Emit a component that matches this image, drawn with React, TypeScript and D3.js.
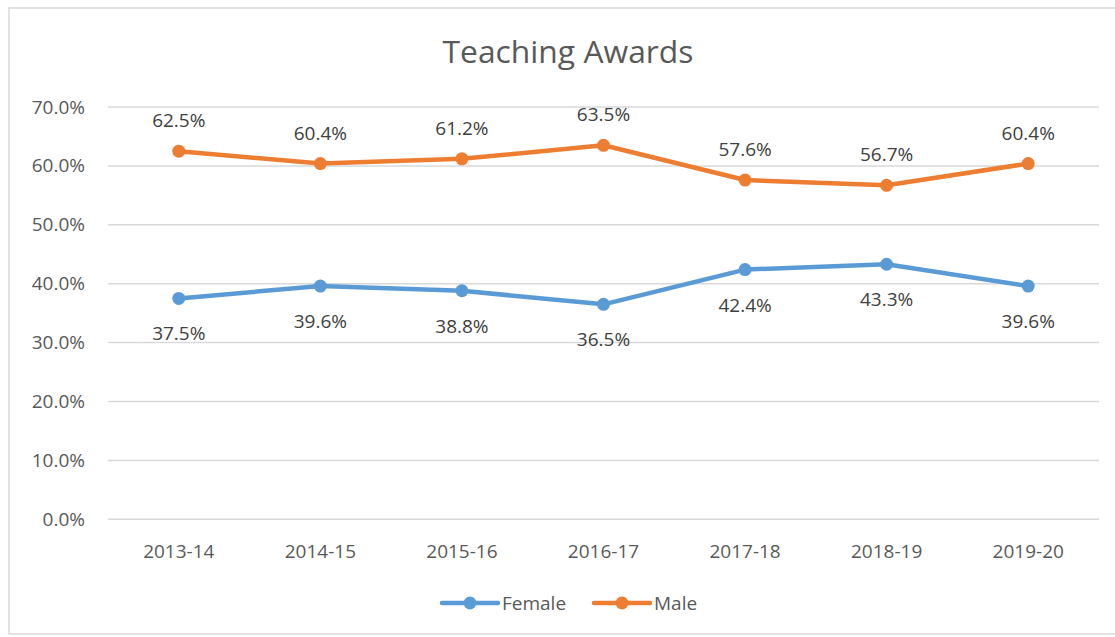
import React from "react";
import * as d3 from "d3";

const categories = ["2013-14", "2014-15", "2015-16", "2016-17", "2017-18", "2018-19", "2019-20"];
const female = [37.5, 39.6, 38.8, 36.5, 42.4, 43.3, 39.6];
const male = [62.5, 60.4, 61.2, 63.5, 57.6, 56.7, 60.4];
const yTicks = [0, 10, 20, 30, 40, 50, 60, 70];
const seriesNames = ["Female", "Male"];
const colors = ["#5B9BD5", "#ED7D31"];

const W = 1115, H = 637;
const FONT = "'Open Sans', sans-serif";

export default function App() {
  const x = d3.scaleBand<string>().domain(categories).range([108, 1099]);
  const y = d3.scaleLinear().domain([0, 70]).range([519.3, 107]);
  const cx = (c: string) => (x(c) as number) + x.bandwidth() / 2;
  const line = d3.line<[string, number]>().x(d => cx(d[0])).y(d => y(d[1]));
  const series = [female, male];
  const text = "#595959";
  const fs = 19;
  return (
    <svg width={W} height={H} style={{ position: "absolute", left: 0, top: 0, background: "#fff" }}>
      <rect x={9} y={8} width={1115} height={626} fill="#fff" stroke="#D9D9D9" strokeWidth={1.5} />
      <text x={568} y={63} textAnchor="middle" fontFamily={FONT} fontSize={31.5} fill={text} textLength={251} lengthAdjust="spacingAndGlyphs">Teaching Awards</text>
      {yTicks.map(t => (
        <g key={t}>
          <line x1={108} x2={1099} y1={y(t)} y2={y(t)} stroke="#D9D9D9" strokeWidth={1.5} />
          <text x={85} y={y(t) + 6.5} textAnchor="end" fontFamily={FONT} fontSize={fs} fill={text}>{t.toFixed(1)}%</text>
        </g>
      ))}
      {categories.map(c => (
        <text key={c} x={cx(c)} y={558} textAnchor="middle" fontFamily={FONT} fontSize={fs} fill={text}>{c}</text>
      ))}
      {series.map((s, i) => (
        <g key={i}>
          <path d={line(categories.map((c, j) => [c, s[j]]) as any) as string} fill="none" stroke={colors[i]} strokeWidth={4.5} strokeLinejoin="round" />
          {categories.map((c, j) => (
            <g key={c}>
              <circle cx={cx(c)} cy={y(s[j])} r={6.5} fill={colors[i]} />
              <text x={cx(c)} y={i === 1 ? y(s[j]) - 24 : y(s[j]) + 42} textAnchor="middle" fontFamily={FONT} fontSize={fs} fill="#404040">{s[j].toFixed(1)}%</text>
            </g>
          ))}
        </g>
      ))}
      {seriesNames.map((n, i) => {
        const lx = 442 + i * 152;
        return (
          <g key={n}>
            <line x1={lx} x2={lx + 56} y1={603} y2={603} stroke={colors[i]} strokeWidth={4.5} strokeLinecap="round" />
            <circle cx={lx + 28} cy={603} r={6.5} fill={colors[i]} />
            <text x={lx + 60} y={610} fontFamily={FONT} fontSize={fs} fill={text}>{n}</text>
          </g>
        );
      })}
    </svg>
  );
}
